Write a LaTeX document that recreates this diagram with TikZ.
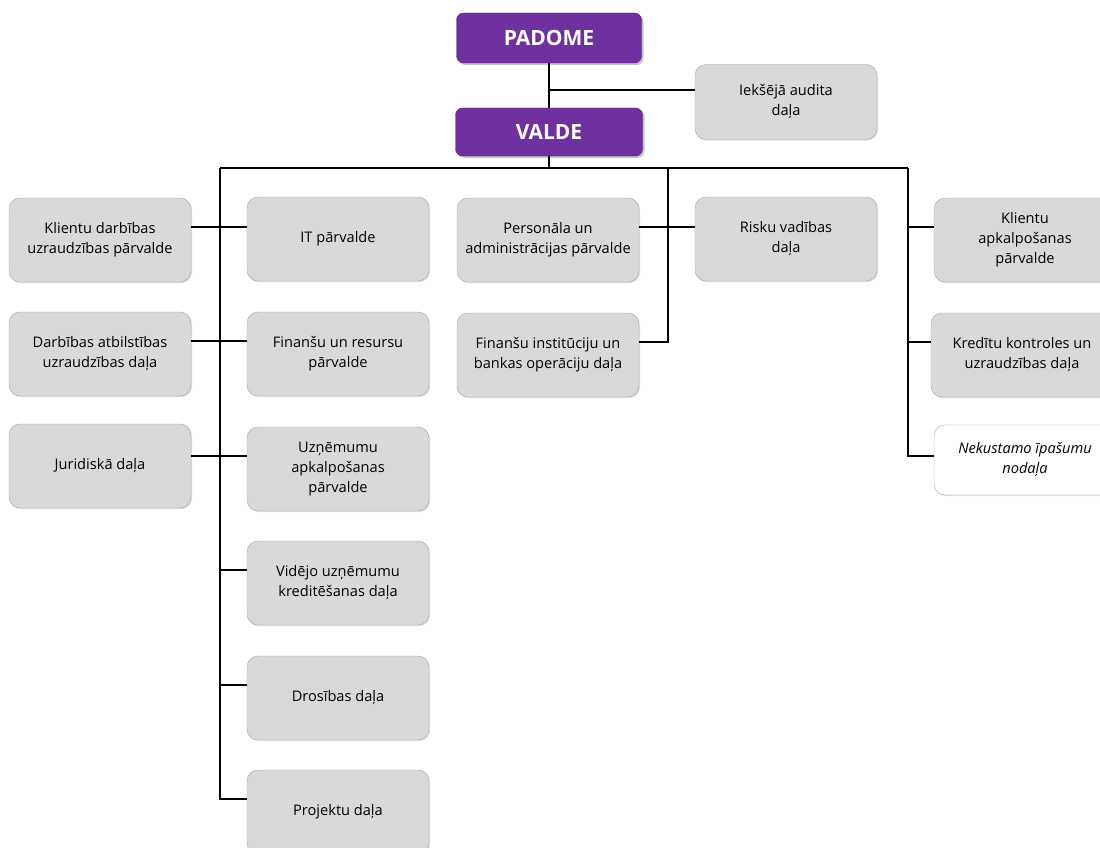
\documentclass[tikz,border=0pt]{standalone}
\usepackage{fontspec}
\setmainfont{Open Sans}
\usepackage{tikz}
\usetikzlibrary{positioning,calc,shadows}
\definecolor{vadiba}{HTML}{7030A0}
\definecolor{nodfill}{HTML}{D9D9D9}
\definecolor{nodline}{HTML}{A6A6A6}
\tikzstyle{board}    = [fill=vadiba,draw=vadiba!80!black,rounded corners=7pt,text=white,
                        font=\fontsize{21}{24}\selectfont\bfseries,
                        drop shadow={shadow xshift=2pt,shadow yshift=-2pt,opacity=0.45}]
\tikzstyle{unit}     = [fill=nodfill,draw=nodline,rounded corners=11pt,minimum width=182pt,
                        minimum height=84pt,align=center,inner sep=2pt,
                        font=\fontsize{14.6}{20}\selectfont,
                        drop shadow={shadow xshift=1pt,shadow yshift=-1.2pt,opacity=0.25}]
\tikzstyle{unitfree} = [unit,fill=white,font=\fontsize{14.6}{20}\selectfont\itshape]
\tikzstyle{link}     = [line width=2pt]

\begin{document}
\begin{tikzpicture}[x=1pt,y=-1pt]
    \useasboundingbox (0,0) rectangle (1100,848);

    % top
    \node (padome)[board,minimum width=185pt,minimum height=50pt] at (549,38)  {PADOME};
    \node (valde)[board,minimum width=187pt,minimum height=48pt]  at (549,132) {VALDE};
    \node (audit)[unit,minimum height=75pt]                       at (786,102) {Iekšējā audita\\daļa};

    % left columns
    \node (kdu)[unit] at (100,240) {Klientu darbības\\uzraudzības pārvalde};
    \node (dau)[unit] at (100,354) {Darbības atbilstības\\uzraudzības daļa};
    \node (jur)[unit] at (100,466) {Juridiskā daļa};
    \node (it)[unit]  at (338,239) {IT pārvalde};
    \node (fin)[unit] at (338,354) {Finanšu un resursu\\pārvalde};
    \node (uzn)[unit] at (338,469) {Uzņēmumu\\apkalpošanas\\pārvalde};
    \node (vid)[unit] at (338,583) {Vidējo uzņēmumu\\kreditēšanas daļa};
    \node (dro)[unit] at (338,698) {Drosības daļa};
    \node (pro)[unit] at (338,812) {Projektu daļa};

    % middle
    \node (per)[unit] at (548,240) {Personāla un\\administrācijas pārvalde};
    \node (fii)[unit] at (548,355) {Finanšu institūciju un\\bankas operāciju daļa};
    \node (ris)[unit] at (786,239) {Risku vadības\\daļa};

    % right column
    \node (kap)[unit]                         at (1025,240) {Klientu\\apkalpošanas\\pārvalde};
    \node (kre)[unit]                         at (1022,355) {Kredītu kontroles un\\uzraudzības daļa};
    \node (nek)[unitfree,minimum height=70pt] at (1025,460) {Nekustamo īpašumu\\nodaļa};

    \coordinate (busL) at (220,168);
    \coordinate (busM) at (668,168);
    \coordinate (busR) at (908,168);

    \draw[link] (padome) -- (valde);
    \draw[link] ([yshift=12pt]audit.west) -- ([yshift=12pt]audit.west -| padome.south);
    \draw[link] (valde.south) -- (valde.south |- busL);
    \draw[link] (busL) -- (busR);

    \draw[link] (busL) |- ([yshift=13pt]pro.west);
    \draw[link] (busM) |- ([yshift=13pt]fii.east);
    \draw[link] (busR) |- ([yshift=4pt]nek.west);

    \draw[link] ([yshift=13pt]kdu.east) -- ([yshift=13pt]kdu.east -| it.west);
    \draw[link] ([yshift=13pt]dau.east) -- ([yshift=13pt]dau.east -| fin.west);
    \draw[link] ([yshift=10pt]jur.east) -- ([yshift=10pt]jur.east -| uzn.west);
    \draw[link] ([yshift=13pt]vid.west) -- ([yshift=13pt]vid.west -| busL);
    \draw[link] ([yshift=13pt]dro.west) -- ([yshift=13pt]dro.west -| busL);
    \draw[link] ([yshift=13pt]per.east) -- ([yshift=13pt]per.east -| ris.west);
    \draw[link] ([yshift=13pt]kap.west) -- ([yshift=13pt]kap.west -| busR);
    \draw[link] ([yshift=13pt]kre.west) -- ([yshift=13pt]kre.west -| busR);
\end{tikzpicture}
\end{document}
